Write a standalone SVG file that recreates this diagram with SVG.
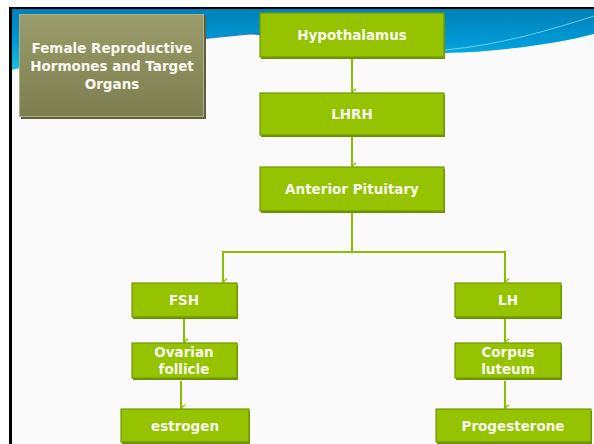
<svg xmlns="http://www.w3.org/2000/svg" width="594" height="444" viewBox="0 0 594 444">
  <defs>
    <linearGradient id="sky" x1="0" y1="0" x2="0" y2="1">
      <stop offset="0" stop-color="#0080b8"/>
      <stop offset="0.55" stop-color="#009ad6"/>
      <stop offset="1" stop-color="#18c4e2"/>
    </linearGradient>
    <linearGradient id="olive" x1="0" y1="0" x2="0" y2="1">
      <stop offset="0" stop-color="#9a9c6a"/>
      <stop offset="1" stop-color="#7d7e50"/>
    </linearGradient>
    <marker id="arr" viewBox="0 0 10 10" refX="5" refY="8" markerWidth="8" markerHeight="8" markerUnits="userSpaceOnUse" orient="auto-start-reverse">
      <path d="M1,3 L5,8 L9,3" fill="none" stroke="#8dbd00" stroke-width="1.6"/>
    </marker>
  </defs>
  <style>
    .box { fill: #95c300; stroke: #6f9a00; stroke-width: 1.2; }
    .shadow { fill: #6c9200; }
    .lbl { font-family: "DejaVu Sans", "Liberation Sans", sans-serif; font-weight: bold; font-size: 13.5px; fill: #f8f8f0; text-anchor: middle; }
    .title { font-family: "DejaVu Sans", "Liberation Sans", sans-serif; font-weight: bold; font-size: 13.5px; fill: #f8f8f0; text-anchor: middle; }
    .conn { fill: none; stroke: #8dbd00; stroke-width: 2; }
  </style>

  <!-- page -->
  <rect x="0" y="0" width="594" height="444" fill="#ffffff"/>
  <rect x="9" y="7" width="585" height="437" fill="#000000"/>
  <rect x="12" y="9" width="582" height="435" fill="#fafafa"/>

  <!-- top swoosh -->
  <path d="M12,9 L594,9 L594,34 C560,43 500,52 445,53 C370,53 310,42 250,34 C200,38 90,52 12,70 Z" fill="url(#sky)"/>
  <path d="M445,50 C500,45 550,30 594,16" fill="none" stroke="#8ad8ea" stroke-width="1" opacity="0.8"/>
  <path d="M150,44 C190,40 230,36 260,33" fill="none" stroke="#2a6fb0" stroke-width="1.2" opacity="0.8"/>

  <!-- title box -->
  <g id="title">
    <rect x="21" y="16" width="185" height="103" fill="#5e5f3a"/>
    <rect x="19.5" y="14.5" width="184" height="102" fill="url(#olive)" stroke="#b0b286" stroke-width="1"/>
    <text class="title" x="112" y="53">Female Reproductive</text>
    <text class="title" x="112" y="71">Hormones and Target</text>
    <text class="title" x="112" y="89">Organs</text>
  </g>

  <!-- connectors -->
  <g id="connectors">
    <line class="conn" x1="352" y1="57" x2="352" y2="92" marker-end="url(#arr)"/>
    <line class="conn" x1="352" y1="135" x2="352" y2="166" marker-end="url(#arr)"/>
    <polyline class="conn" points="352,211 352,252 223,252 223,282" marker-end="url(#arr)"/>
    <polyline class="conn" points="352,252 505,252 505,282" marker-end="url(#arr)"/>
    <line class="conn" x1="184" y1="317" x2="184" y2="342" marker-end="url(#arr)"/>
    <line class="conn" x1="181" y1="381" x2="181" y2="408" marker-end="url(#arr)"/>
    <line class="conn" x1="505" y1="317" x2="505" y2="342" marker-end="url(#arr)"/>
    <line class="conn" x1="505" y1="381" x2="505" y2="408" marker-end="url(#arr)"/>
  </g>

  <g id="hypothalamus">
    <rect class="shadow" x="261" y="15" width="184" height="44"/>
    <rect class="box" x="260" y="13" width="184" height="44"/>
    <text class="lbl" x="352" y="40">Hypothalamus</text>
  </g>
  <g id="lhrh">
    <rect class="shadow" x="261" y="95" width="184" height="42"/>
    <rect class="box" x="260" y="93" width="184" height="42"/>
    <text class="lbl" x="352" y="119">LHRH</text>
  </g>
  <g id="anterior-pituitary">
    <rect class="shadow" x="261" y="169" width="184" height="44"/>
    <rect class="box" x="260" y="167" width="184" height="44"/>
    <text class="lbl" x="352" y="194">Anterior Pituitary</text>
  </g>
  <g id="fsh">
    <rect class="shadow" x="133" y="285" width="105" height="34"/>
    <rect class="box" x="132" y="283" width="105" height="34"/>
    <text class="lbl" x="184" y="305">FSH</text>
  </g>
  <g id="ovarian-follicle">
    <rect class="shadow" x="133" y="345" width="105" height="35"/>
    <rect class="box" x="132" y="343" width="105" height="35"/>
    <text class="lbl" x="184" y="357">Ovarian</text>
    <text class="lbl" x="184" y="374">follicle</text>
  </g>
  <g id="estrogen">
    <rect class="shadow" x="122" y="411" width="128" height="33"/>
    <rect class="box" x="121" y="409" width="128" height="33"/>
    <text class="lbl" x="185" y="431">estrogen</text>
  </g>
  <g id="lh">
    <rect class="shadow" x="456" y="285" width="106" height="34"/>
    <rect class="box" x="455" y="283" width="106" height="34"/>
    <text class="lbl" x="508" y="305">LH</text>
  </g>
  <g id="corpus-luteum">
    <rect class="shadow" x="456" y="345" width="106" height="35"/>
    <rect class="box" x="455" y="343" width="106" height="35"/>
    <text class="lbl" x="508" y="357">Corpus</text>
    <text class="lbl" x="508" y="374">luteum</text>
  </g>
  <g id="progesterone">
    <rect class="shadow" x="437" y="411" width="155" height="33"/>
    <rect class="box" x="436" y="409" width="155" height="33"/>
    <text class="lbl" x="513" y="431">Progesterone</text>
  </g>
</svg>
